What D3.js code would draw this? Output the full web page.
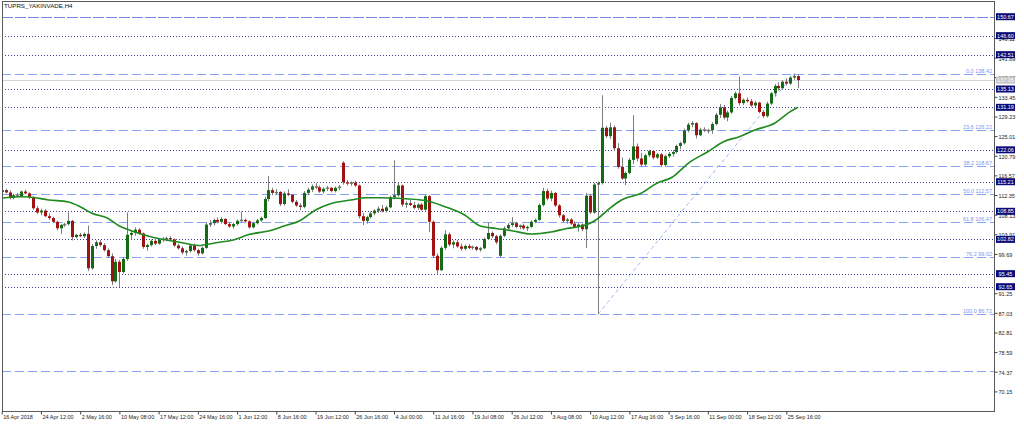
<!DOCTYPE html>
<html><head><meta charset="utf-8">
<script src="https://cdn.jsdelivr.net/npm/d3@7"></script>
<style>body{margin:0;background:#fff}svg{display:block}text{font-family:"Liberation Sans",Arial,sans-serif}</style>
</head><body><svg id="c" width="1024" height="424"></svg>
<script>
// ---- data (H4 bars, index 0..203) ----
const open=[113.0,113.4,112.9,111.7,112.3,112.1,113.1,112.7,111.9,109.5,108.6,109.0,107.8,107.4,106.6,105.2,105.9,106.1,106.8,103.3,103.8,103.5,104.0,96.6,101.4,102.2,101.6,100.5,99.2,93.8,98.0,95.8,98.6,103.8,104.2,104.9,104.1,101.2,101.6,102.5,101.9,102.7,102.9,103.1,102.8,101.5,100.9,100.0,100.3,101.5,100.5,99.8,101.0,106.0,106.3,107.0,106.6,107.2,106.1,105.6,106.1,106.8,107.0,106.7,105.4,106.3,106.9,107.4,111.5,113.4,112.8,113.0,110.4,112.7,112.4,110.9,110.1,109.8,112.8,113.5,114.2,114.0,113.1,113.7,113.9,113.2,113.9,119.3,115.1,114.8,115.0,114.4,107.8,106.8,107.6,108.4,109.0,109.4,108.9,109.7,111.9,112.3,114.4,110.3,110.6,110.2,109.6,110.3,109.2,112.1,106.6,99.3,96.2,101.0,103.9,101.7,102.2,101.3,100.8,101.4,101.0,101.2,100.6,100.9,102.9,104.2,103.5,99.3,103.6,105.2,105.9,106.3,105.5,105.8,105.2,105.5,106.6,107.0,110.2,113.2,111.6,112.8,110.1,108.0,106.8,107.1,106.2,105.5,106.0,105.0,112.2,108.6,114.6,114.9,126.8,125.0,126.9,122.4,118.4,115.9,117.1,119.9,122.8,120.2,118.9,120.9,121.8,120.4,121.1,118.8,120.7,121.2,121.6,122.9,123.5,126.2,127.5,127.8,125.2,126.4,126.2,126.3,127.6,129.6,131.2,129.0,130.1,133.2,134.2,132.1,132.8,132.5,131.6,132.2,130.2,129.3,132.0,134.2,135.8,135.3,136.7,136.3,137.6,137.9];
const high=[113.6,113.7,113.3,112.6,112.8,113.3,113.5,112.9,112.0,110.0,109.4,109.3,108.4,107.7,106.8,106.1,106.4,108.6,107.0,104.0,104.2,104.3,105.8,101.8,102.6,102.7,102.0,100.9,99.8,98.6,98.4,99.0,108.6,104.6,105.4,105.2,104.3,101.9,102.8,102.9,102.9,103.3,103.4,103.5,103.0,101.9,101.3,100.6,101.8,101.9,100.8,101.3,106.5,107.0,107.3,107.5,107.6,107.4,106.6,106.4,107.1,108.8,107.3,106.9,106.6,107.2,107.7,112.0,116.4,113.9,113.6,113.2,113.1,113.6,112.6,111.3,110.6,113.2,113.9,114.6,114.9,114.4,114.0,114.3,114.1,114.2,114.5,119.6,115.6,115.3,115.4,114.6,108.5,107.9,108.8,109.3,109.9,110.2,110.0,112.2,119.8,114.9,114.6,111.0,111.3,110.9,110.6,110.6,112.4,112.4,106.9,99.8,101.3,104.8,104.3,102.6,102.7,101.9,101.7,101.8,101.5,101.4,101.2,103.2,106.4,104.5,103.8,103.9,105.6,106.3,107.6,106.6,106.0,106.2,105.8,106.9,107.3,110.5,113.9,113.7,113.3,113.0,110.4,108.3,107.4,107.4,106.7,106.3,106.2,112.8,112.6,115.0,115.3,133.8,127.2,127.9,127.3,123.5,120.4,117.4,120.3,129.5,123.4,121.4,121.2,122.1,122.0,121.4,121.4,121.0,121.6,122.0,123.2,123.8,126.6,127.9,128.2,128.0,126.8,126.9,126.6,128.0,130.0,131.9,131.7,130.5,133.6,134.6,137.8,133.1,133.3,133.0,132.5,132.4,130.6,132.4,134.5,136.2,136.6,137.0,137.4,137.9,138.42,138.2];
const low=[112.6,112.7,111.4,111.4,111.9,111.9,112.5,111.5,109.2,108.3,108.0,107.6,107.0,106.3,104.8,104.0,105.5,105.8,102.6,103.0,103.3,103.1,96.0,96.3,100.8,101.2,100.2,98.9,93.0,93.5,92.6,95.5,98.2,102.8,103.6,103.8,100.8,100.4,101.3,101.6,101.7,102.3,102.4,102.5,101.2,100.6,99.6,99.3,100.0,100.2,99.3,99.6,100.8,105.5,105.8,106.3,106.2,105.9,105.3,105.1,105.8,106.5,106.4,105.1,105.2,106.0,106.6,107.2,111.0,112.3,112.4,110.0,110.1,112.1,110.6,109.8,109.1,109.5,112.3,113.0,113.6,112.8,112.7,113.2,112.9,112.9,113.4,114.6,114.4,114.3,114.1,107.3,105.9,106.2,107.3,108.0,108.5,108.6,108.6,109.5,111.4,112.0,109.8,109.6,110.0,109.3,109.2,109.0,109.0,104.4,98.8,95.2,96.0,100.6,101.3,100.9,101.0,100.4,100.5,100.7,100.6,100.3,100.2,100.7,102.7,103.1,101.8,99.0,103.3,104.9,105.5,105.2,105.0,104.9,104.6,105.3,106.3,106.8,109.9,111.2,111.0,109.8,107.5,106.5,106.2,105.9,105.2,104.5,104.6,101.0,108.3,108.3,86.72,114.6,124.6,124.4,121.9,118.0,115.6,114.5,116.8,119.0,119.6,118.4,118.6,120.5,120.0,120.1,118.4,118.5,120.3,120.6,121.3,122.2,123.2,125.8,126.9,124.5,125.0,125.9,125.6,125.5,127.3,128.9,128.6,128.2,129.8,132.9,131.6,131.7,132.2,131.3,131.2,129.9,128.9,129.0,131.7,133.6,134.8,135.0,135.9,136.0,137.1,135.3];
const close=[113.4,112.9,111.7,112.3,112.1,113.1,112.7,111.9,109.5,108.6,109.0,107.8,107.4,106.6,105.2,105.9,106.1,106.8,103.3,103.8,103.5,104.0,96.6,101.4,102.2,101.6,100.5,99.2,93.8,98.0,95.8,98.6,103.8,104.2,104.9,104.1,101.2,101.6,102.5,101.9,102.7,102.9,103.1,102.8,101.5,100.9,100.0,100.3,101.5,100.5,99.8,101.0,106.0,106.3,107.0,106.6,107.2,106.1,105.6,106.1,106.8,107.0,106.7,105.4,106.3,106.9,107.4,111.5,113.4,112.8,113.0,110.4,112.7,112.4,110.9,110.1,109.8,112.8,113.5,114.2,114.0,113.1,113.7,113.9,113.2,113.9,114.1,115.1,114.8,115.0,114.4,107.8,106.8,107.6,108.4,109.0,109.4,108.9,109.7,111.9,112.3,114.4,110.3,110.6,110.2,109.6,110.3,109.2,112.1,106.6,99.3,96.2,101.0,103.9,101.7,102.2,101.3,100.8,101.4,101.0,101.2,100.6,100.9,102.9,104.2,103.5,102.2,103.6,105.2,105.9,106.3,105.5,105.8,105.2,105.5,106.6,107.0,110.2,113.2,111.6,112.8,110.1,108.0,106.8,107.1,106.2,105.5,106.0,105.0,112.2,108.6,114.6,114.9,126.8,125.0,126.9,122.4,118.4,115.9,117.1,119.9,122.8,120.2,118.9,120.9,121.8,120.4,121.1,118.8,120.7,121.2,121.6,122.9,123.5,126.2,127.5,127.8,125.2,126.4,126.2,126.3,127.6,129.6,131.2,129.0,130.1,133.2,134.2,132.1,132.8,132.5,131.6,132.2,130.2,129.3,132.0,134.2,135.8,135.3,136.7,136.3,137.6,137.9,137.05];
// moving average (bar index, value)
const maBar=[0,5,7,12,17,20,23,27,30,33,38,42,46,50,55,59,63,68,72,76,80,84,89,93,97,101,108,113,118,122,126,130,135,140,144,148,150,152,155,158,163,167,171,175,180,184,188,192,197,201,203];
const maVal=[111.71,111.99,111.93,111.29,110.85,109.84,108.42,107.35,105.69,104.69,103.40,102.69,102.11,101.51,102.15,102.69,103.87,104.62,105.70,106.84,109.14,110.53,111.29,111.76,111.76,111.65,111.18,109.84,108.06,105.70,105.16,104.69,103.98,104.41,105.16,105.70,106.28,107.31,109.50,111.29,112.72,114.87,116.23,119.17,121.66,123.81,124.89,126.33,127.76,130.26,131.20];
// horizontal levels
const navyLevels=[150.67,146.60,142.51,135.13,131.19,122.06,115.21,108.85,102.82,95.45,92.65];
const fibPct=["0.0","23.6","38.2","50.0","61.8","76.2","100.0"];
const fibVal=[138.42,126.22,118.67,112.57,106.47,99.02,86.72];
const extraDashed=[74.48];
const currentPrice=137.05;
const fibFrom={bar:152,price:86.72}, fibTo={bar:202,price:138.42};
const yTicks=[70.15,74.37,78.59,82.81,87.03,91.25,99.69,103.91,108.13,112.35,116.57,120.79,125.01,129.23,133.45,137.67,141.89,146.11];
const xTickBars=[0,10,20,30,40,50,60,70,80,90,100,110,120,130,140,150,160,170,180,190,200];
const xLabels=["16 Apr 2018","24 Apr 12:00","2 May 16:00","10 May 08:00","17 May 12:00","24 May 16:00","1 Jun 12:00","8 Jun 16:00","19 Jun 12:00","26 Jun 16:00","4 Jul 00:00","11 Jul 16:00","19 Jul 08:00","26 Jul 12:00","3 Aug 08:00","10 Aug 12:00","17 Aug 16:00","3 Sep 16:00","11 Sep 00:00","18 Sep 12:00","25 Sep 16:00"];
const title="TUPRS_YAKINVADE,H4";

// ---- drawing ----
const FS=5.5;
const svg=d3.select("#c");
const L=2,R=994,T=1,B=411;
const x=d3.scaleLinear().domain([0,200]).range([1.7,786.3]);
const y=d3.scaleLinear().domain([70.15,150.67]).range([391.4,16.7]);
svg.append("rect").attr("width",1024).attr("height",424).attr("fill","#fff");
svg.append("clipPath").attr("id","pc").append("rect").attr("x",L).attr("y",T).attr("width",R-L).attr("height",B-T);
const g=svg.append("g").attr("clip-path","url(#pc)");
const py=v=>Math.round(y(v))+0.5;

// current price line
g.append("line").attr("x1",L).attr("x2",R).attr("y1",py(currentPrice)).attr("y2",py(currentPrice)).attr("stroke","#d4d4d4").attr("stroke-width",1);
// navy dotted lines
g.selectAll(".nv").data(navyLevels).join("line")
 .attr("x1",L).attr("x2",R).attr("y1",d=>py(d)).attr("y2",d=>py(d))
 .attr("stroke",(d,i)=>i===0?"#7c84e6":"#3b3b9c").attr("stroke-width",1)
 .attr("stroke-dasharray",(d,i)=>i===0?"11,2":"1,2");
// fib + extra dashed
g.selectAll(".fb").data(fibVal.concat(extraDashed)).join("line")
 .attr("x1",L).attr("x2",R).attr("y1",d=>py(d)).attr("y2",d=>py(d))
 .attr("stroke","#87a2f2").attr("stroke-width",1).attr("stroke-dasharray","9,4");
g.selectAll(".fl").data(fibVal).join("text")
 .attr("x",992).attr("y",d=>py(d)-1.8).attr("text-anchor","end").attr("font-size",FS).attr("fill","#7b96ee")
 .text((d,i)=>fibPct[i]+" "+d.toFixed(2));
// fib trendline
g.append("line").attr("x1",x(fibFrom.bar)).attr("y1",y(fibFrom.price)).attr("x2",x(fibTo.bar)).attr("y2",y(fibTo.price))
 .attr("stroke","#8ea8f2").attr("stroke-width",0.8).attr("stroke-dasharray","4,3");

// candles
const idx=d3.range(close.length);
const cg=g.append("g");
cg.selectAll(".w").data(idx).join("line")
 .attr("x1",i=>Math.round(x(i))+0.5).attr("x2",i=>Math.round(x(i))+0.5)
 .attr("y1",i=>y(high[i])).attr("y2",i=>y(low[i])).attr("stroke","#7d7d7d").attr("stroke-width",1);
cg.selectAll(".b").data(idx).join("rect")
 .attr("x",i=>Math.round(x(i))-1).attr("width",3)
 .attr("y",i=>y(Math.max(open[i],close[i])))
 .attr("height",i=>Math.max(1,Math.abs(y(open[i])-y(close[i]))))
 .attr("fill",i=>close[i]>=open[i]?"#146b14":"#a31212")
 .attr("stroke",i=>Math.abs(y(open[i])-y(close[i]))<1.2?"#8a8a8a":"none").attr("stroke-width",0.5);

// MA
g.append("path").datum(d3.range(maBar.length))
 .attr("d",d3.line().x(i=>x(maBar[i])).y(i=>y(maVal[i])).curve(d3.curveMonotoneX))
 .attr("fill","none").attr("stroke","#1f8a1f").attr("stroke-width",1.6);

// frame
svg.append("rect").attr("x",L+0.5).attr("y",T+0.5).attr("width",R-L).attr("height",B-T).attr("fill","none").attr("stroke","#5a5a5a").attr("stroke-width",1);

// y axis
const ya=svg.append("g").attr("transform",`translate(${R+0.5},0)`)
 .call(d3.axisRight(y).tickValues(yTicks).tickSize(3).tickPadding(1).tickFormat(d3.format(".2f")));
ya.select(".domain").remove();
ya.selectAll("line").attr("stroke","#444");
ya.selectAll("text").attr("font-size",FS).attr("fill","#222").attr("dy","0.45em").style("font-family","Liberation Sans, Arial");
// level labels
const lb=svg.append("g");
lb.selectAll("rect").data(navyLevels).join("rect").attr("x",R+2).attr("y",d=>y(d)-3.5).attr("width",19).attr("height",7).attr("fill","#0a0a78");
lb.selectAll("text").data(navyLevels).join("text").attr("x",R+11.5).attr("y",d=>y(d)+2).attr("text-anchor","middle").attr("font-size",FS).attr("fill","#fff").text(d=>d.toFixed(2));
svg.append("rect").attr("x",R+2).attr("y",y(currentPrice)-3.5).attr("width",19).attr("height",7).attr("fill","#c4c4c4");
svg.append("text").attr("x",R+11.5).attr("y",y(currentPrice)+2).attr("text-anchor","middle").attr("font-size",FS).attr("fill","#fff").text(currentPrice.toFixed(2));

// x axis
const xa=svg.append("g").attr("transform",`translate(0,${B+0.5})`)
 .call(d3.axisBottom(x).tickValues(xTickBars).tickSize(3).tickPadding(1).tickFormat((d,i)=>xLabels[i]));
xa.select(".domain").remove();
xa.selectAll("line").attr("stroke","#444");
xa.selectAll("text").attr("font-size",FS).attr("fill","#222").attr("text-anchor","start").attr("dx","1").style("font-family","Liberation Sans, Arial");

// title
svg.append("text").attr("x",4).attr("y",8).attr("font-size",6.2).attr("fill","#111").text(title);
</script></body></html>
